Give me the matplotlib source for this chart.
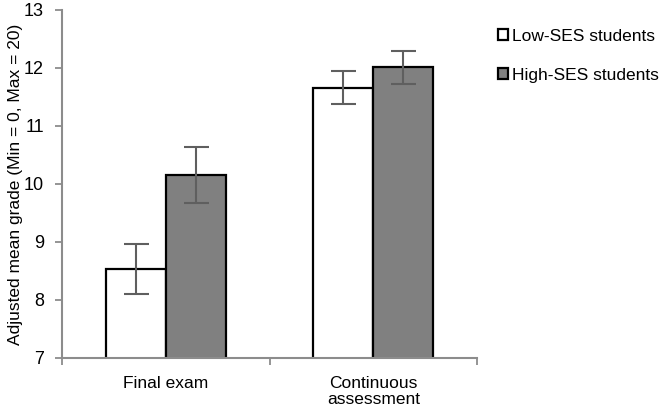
import matplotlib.pyplot as plt
import numpy as np

plt.rcParams['font.family'] = ['Liberation Sans', 'DejaVu Sans']

# data
grupos = ["Final exam", "Continuous\nassessment"]
series = ["Low-SES students", "High-SES students"]
media_low = [8.53, 11.66]
media_high = [10.15, 12.01]
err_low = [0.43, 0.28]
err_high = [0.48, 0.28]

ejes_color = '#8c8c8c'

fig = plt.figure(figsize=(6.72, 4.13), dpi=100)
ax = fig.add_axes([62/672, 1 - 358/413, (477 - 62)/672, (358 - 10)/413])

x = np.arange(len(grupos))
w = 0.29
errkw = dict(ecolor='#5f5f5f', elinewidth=1.5, capsize=9, capthick=1.5)
ax.bar(x - w/2, media_low, w, color='white', edgecolor='black',
       linewidth=1.6, yerr=err_low, error_kw=errkw, label=series[0])
ax.bar(x + w/2, media_high, w, color='#808080', edgecolor='black',
       linewidth=1.6, yerr=err_high, error_kw=errkw, label=series[1])

ax.set_ylim(7, 13)
ax.set_xlim(-0.5, 1.5)
ax.set_yticks(range(7, 14))
ax.tick_params(axis='y', labelsize=13, color=ejes_color, width=1.3, length=5, pad=8)

# etiquetas de categoria sin tick, ticks en los limites
ax.set_xticks(x)
ax.set_xticklabels(grupos, fontsize=12.5, linespacing=1.05)
ax.tick_params(axis='x', which='major', length=0, pad=13)
ax.set_xticks([-0.5, 0.5, 1.5], minor=True)
ax.tick_params(axis='x', which='minor', length=5, color=ejes_color, width=1.3)

for s in ['top', 'right']:
    ax.spines[s].set_visible(False)
for s in ['left', 'bottom']:
    ax.spines[s].set_color(ejes_color)
    ax.spines[s].set_linewidth(1.5)

ax.set_ylabel('Adjusted mean grade (Min = 0, Max = 20)', fontsize=12.5, labelpad=0.5)

ax.legend(loc='upper left', bbox_to_anchor=(1.013, 0.99), frameon=False,
          fontsize=12.5, handlelength=0.6, handleheight=0.6, handletextpad=0.2,
          labelspacing=1.35)

fig.savefig('out.png', dpi=100)
